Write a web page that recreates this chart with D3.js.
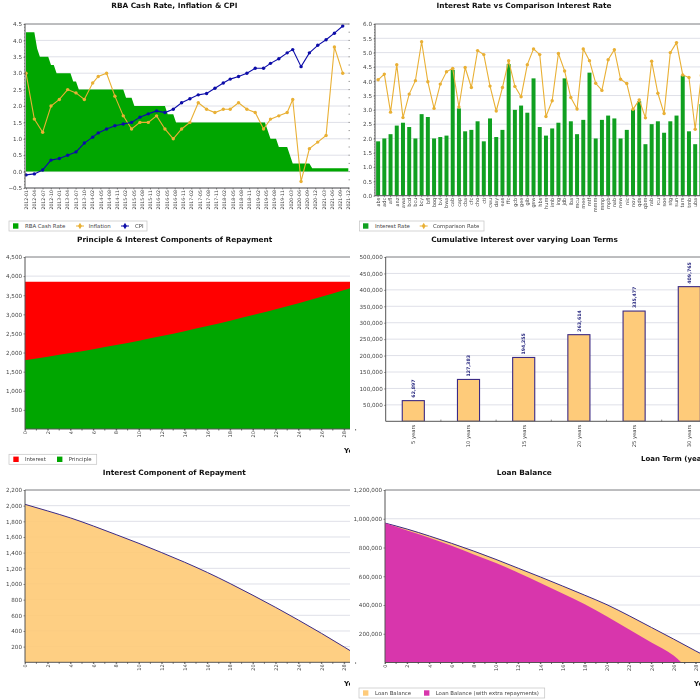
<!DOCTYPE html>
<html lang="en">
<head>
<meta charset="UTF-8">
<title>Home loan charts</title>
<script src="https://d3js.org/d3.v7.min.js"></script>
<style>
    html, body { margin: 0; padding: 0; background: #fff; }
    svg { display: block; filter: blur(0.3px); }
    text { font-family: "DejaVu Sans", sans-serif; }
    .title { font-size: 7.35px; font-weight: bold; fill: #111; text-anchor: middle; }
    .axislabel { font-size: 7px; font-weight: bold; fill: #111; }
    .tick text { fill: #444; }
    .tick line { stroke: #444; stroke-width: 0.6; }
    .domain { stroke: #555; stroke-width: 1; fill: none; }
    .grid { stroke: #dfe0e8; stroke-width: 1; }
    .legend text { font-size: 5.4px; fill: #444; }
</style>
</head>
<body>
<div id="chart"></div>
<script>
// chart 1 - RBA cash rate, inflation, cpi
var rateLabels = ["2012-01","2012-04","2012-07","2012-10","2013-01","2013-04","2013-07","2013-10","2014-02","2014-05","2014-08","2014-11","2015-02","2015-05","2015-08","2015-11","2016-02","2016-05","2016-08","2016-11","2017-02","2017-05","2017-08","2017-11","2018-02","2018-05","2018-08","2018-11","2019-02","2019-05","2019-08","2019-11","2020-03","2020-06","2020-09","2020-12","2021-03","2021-06","2021-09","2021-12"];
var cashMonths = [0,3,4,5,8,9,10,11,16,17,18,19,35,36,38,39,50,51,53,54,86,88,90,91,94,96,102,103,116];
var cashRate = [4.25,4.25,3.75,3.5,3.5,3.25,3.25,3,3,2.75,2.75,2.5,2.5,2.25,2.25,2,2,1.75,1.75,1.5,1.5,1,1,0.75,0.75,0.25,0.25,0.1,0.1];
var pointMonths = [0,3,6,9,12,15,18,21,24,26,29,32,35,38,41,44,47,50,53,56,59,62,65,68,71,73.5,76.5,79.5,82.5,85.5,88,91,94,96,99,102,105,108,111,114];
var inflation = [3.0,1.6,1.2,2.0,2.2,2.5,2.4,2.2,2.7,2.9,3.0,2.3,1.7,1.3,1.5,1.5,1.7,1.3,1.0,1.3,1.5,2.1,1.9,1.8,1.9,1.9,2.1,1.9,1.8,1.3,1.6,1.7,1.8,2.2,-0.3,0.7,0.9,1.1,3.8,3.0];
var cpi = [-0.1,-0.07,0.05,0.35,0.4,0.5,0.6,0.87,1.05,1.18,1.3,1.4,1.45,1.5,1.66,1.76,1.85,1.8,1.9,2.1,2.22,2.34,2.38,2.54,2.7,2.82,2.9,3.0,3.15,3.15,3.3,3.44,3.62,3.72,3.2,3.62,3.85,4.02,4.22,4.44];

// chart 2 - lenders
var lenders = ["abs","adc","afl","anz","awa","bcd","bcu","bcy","bfl","boq","bvl","bwa","cab","cap","cba","cfc","cho","cti","cwu","day","eas","ffc","gcb","gee","gib","gsw","hbs","hum","imb","ing","jdb","lba","mcu","mee","mtf","mmm","mmp","mpb","nab","new","nic","nov","qds","qbm","rab","rcu","soe","stg","sun","tars","tmb","uba",""];
var interestRate = [1.9,2.0,2.15,2.45,2.55,2.4,2.0,2.85,2.75,2.0,2.05,2.1,4.4,3.05,2.25,2.3,2.6,1.9,2.7,2.05,2.3,4.6,3.0,3.15,2.9,4.1,2.4,2.1,2.35,2.55,4.1,2.6,2.15,2.65,4.3,2.0,2.65,2.8,2.7,2.0,2.3,3.0,3.3,1.8,2.5,2.6,2.2,2.6,2.8,4.2,2.25,1.8,3.2];
var comparisonRate = [4.05,4.25,2.92,4.58,2.73,3.55,4.02,5.38,3.98,3.05,3.9,4.33,4.45,3.1,4.48,3.78,5.07,4.93,3.83,2.96,3.78,4.72,3.82,3.46,4.58,5.13,4.93,2.77,3.32,4.97,4.36,3.43,3.03,5.13,4.72,3.93,3.68,4.75,5.1,4.07,3.92,3.02,3.35,2.72,4.7,3.58,2.87,5.0,5.35,4.22,4.13,2.32,4.2];

// charts 3,5,6 - repayment schedule, read every 2 years
var years = [0,2,4,6,8,10,12,14,16,18,20,22,24,26,28,30];
var repayment = [3850,3850,3850,3850,3850,3850,3850,3850,3850,3850,3850,3850,3850,3850,3850,3850];
var principle = [1800,1892,1988,2088,2195,2310,2432,2560,2695,2835,2980,3130,3290,3458,3635,3820];
var interestPart = [2017,1932,1843,1740,1630,1518,1400,1278,1147,1005,855,700,538,370,195,17];
var balance = [970000,928000,880000,829000,775000,717000,656000,595000,532000,468000,402000,325000,244000,163000,80000,0];
var extraYears = [0,2,4,6,8,10,12,14,16,18,20,22,24,26,26.7];
var balanceExtra = [970000,918000,868000,812000,752000,692000,625000,553000,480000,405000,320000,230000,140000,48000,0];

// chart 4 - cumulative interest
var terms = ["5 years","10 years","15 years","20 years","25 years","30 years"];
var cumulative = [62897,127383,194255,263614,335477,409765];

var green = "#00a600", red = "#ff0000", orange = "#e9b035", navy = "#0c0ca8";
var peach = "#fecb7a", edge = "#3b2a85", purple = "#d836ac", barGreen = "#10a020";

var svg = d3.select("#chart").append("svg").attr("width", 700).attr("height", 700);
var fmt = d3.format(",");

// the left column is cut off at x=350
svg.append("clipPath").attr("id", "leftcol").append("rect").attr("width", 350).attr("height", 700);

// makes the plot frame, grid and y axis. returns a group clipped to the panel
function panel(id, o) {
    var g = svg.append("g");
    var y = d3.scaleLinear().domain(o.yDomain).range([o.bottom, o.top]);
    svg.append("clipPath").attr("id", id).append("rect")
        .attr("x", o.left).attr("y", o.top).attr("width", o.clipRight - o.left).attr("height", o.bottom - o.top);

    g.append("text").attr("class", "title").attr("x", o.titleX).attr("y", o.titleY).text(o.title);

    g.selectAll(".grid").data(o.yTicks).join("line").attr("class", "grid")
        .attr("x1", o.left).attr("x2", o.clipRight).attr("y1", function(d){ return y(d) }).attr("y2", function(d){ return y(d) });

    var plot = g.append("g").attr("clip-path", "url(#" + id + ")");

    // grey top edge
    g.append("line").attr("x1", o.left).attr("x2", o.clipRight).attr("y1", o.top).attr("y2", o.top)
        .attr("stroke", "#8a8a8a").attr("stroke-width", 1);

    var axis = g.append("g").attr("transform", "translate(" + o.left + ",0)")
        .call(d3.axisLeft(y).tickValues(o.yTicks).tickFormat(o.yFormat).tickSize(1.5).tickPadding(1.5));
    axis.selectAll("text").style("font-size", "5.6px");
    axis.select(".domain").attr("d", "M0," + o.top + "V" + o.bottom);

    if (o.minor) {
        g.append("g").selectAll("line").data(o.minor).join("line")
            .attr("x1", o.left - 1).attr("x2", o.left)
            .attr("y1", function(d){ return y(d) }).attr("y2", function(d){ return y(d) })
            .attr("stroke", "#444").attr("stroke-width", 0.5);
    }
    return { g: g, plot: plot, y: y };
}

// vertical labels under the x axis
function xAxis(g, scale, o) {
    var axis = d3.axisBottom(scale).tickSize(1.5).tickPadding(0);
    if (o.values) axis.tickValues(o.values);
    if (o.format) axis.tickFormat(o.format);
    var a = g.append("g").attr("transform", "translate(0," + o.bottom + ")").call(axis);
    a.select(".domain").attr("d", "M" + o.left + ",0H" + o.right);
    a.selectAll("text")
        .style("font-size", o.size + "px")
        .attr("text-anchor", "end")
        .attr("transform", "translate(0," + o.gap + ") rotate(-90)")
        .attr("x", 0).attr("y", 0).attr("dy", "0.35em");
    return a;
}

function legend(x, y, w, items) {
    var l = svg.append("g").attr("class", "legend");
    l.append("rect").attr("x", x).attr("y", y).attr("width", w).attr("height", 10)
        .attr("fill", "#fff").attr("stroke", "#c4c4c4").attr("stroke-width", 0.7);
    items.forEach(function(it) {
        if (it.line) {
            l.append("line").attr("x1", it.mark - 4).attr("x2", it.mark + 4).attr("y1", y + 5).attr("y2", y + 5)
                .attr("stroke", it.color).attr("stroke-width", 1);
            l.append("path").attr("d", d3.symbol(d3.symbolDiamond, 12)()).attr("fill", it.color)
                .attr("transform", "translate(" + it.mark + "," + (y + 5) + ")");
        } else {
            l.append("rect").attr("x", it.mark - 2.7).attr("y", y + 2.3).attr("width", 5.4).attr("height", 5.4).attr("fill", it.color);
        }
        l.append("text").attr("x", it.text).attr("y", y + 7).text(it.label);
    });
}

function dots(group, xs, ys, color, r) {
    group.append("g").selectAll("circle").data(ys).join("circle")
        .attr("cx", function(d, i){ return xs(i) }).attr("cy", function(d){ return d })
        .attr("r", r).attr("fill", color);
}

// ---- chart 1 ----
var c1 = panel("c1", {
    left: 25, top: 24, bottom: 188, clipRight: 349, title: "RBA Cash Rate, Inflation & CPI", titleX: 174.3, titleY: 8,
    yDomain: [-0.5, 4.5], yTicks: d3.range(11).map(function(i){ return -0.5 + i * 0.5 }), yFormat: d3.format(".1f"),
    minor: d3.range(51).map(function(i){ return -0.5 + i * 0.1 })
});
var x1 = d3.scaleLinear().domain([0, 116]).range([26, 348.3]);
c1.plot.append("path").attr("fill", green)
    .attr("d", d3.area().x(function(d, i){ return x1(cashMonths[i]) }).y0(c1.y(0)).y1(function(d){ return c1.y(d) })(cashRate));
[[inflation, orange], [cpi, navy]].forEach(function(s) {
    var line = d3.line().x(function(d, i){ return x1(pointMonths[i]) }).y(function(d){ return c1.y(d) });
    c1.plot.append("path").attr("d", line(s[0])).attr("fill", "none").attr("stroke", s[1]).attr("stroke-width", 1.1);
    dots(c1.plot, function(i){ return x1(pointMonths[i]) }, s[0].map(c1.y), s[1], 1.7);
});
var xl1 = d3.scalePoint().domain(rateLabels).range([26, 348.3]);
xAxis(c1.g, xl1, { bottom: 188, left: 25, right: 349, size: 4.7, gap: 2 });
// little ticks on the right hand side
c1.g.append("g").selectAll("line").data(d3.range(21).map(function(i){ return -0.5 + i * 0.25 })).join("line")
    .attr("x1", 348.5).attr("x2", 350).attr("y1", c1.y).attr("y2", c1.y).attr("stroke", "#444").attr("stroke-width", 0.5);
legend(9, 221, 138, [
    { label: "RBA Cash Rate", mark: 15.7, text: 25, color: green },
    { label: "Inflation", mark: 80, text: 88.7, color: orange, line: true },
    { label: "CPI", mark: 125, text: 135, color: navy, line: true }
]);

// ---- chart 2 ----
var c2 = panel("c2", {
    left: 375, top: 24, bottom: 195.7, clipRight: 700, title: "Interest Rate vs Comparison Interest Rate", titleX: 524, titleY: 8,
    yDomain: [0, 6], yTicks: d3.range(13).map(function(i){ return i * 0.5 }), yFormat: d3.format(".1f"),
    minor: d3.range(61).map(function(i){ return i * 0.1 })
});
var x2 = d3.scaleBand().domain(d3.range(53)).range([375, 375 + 53 * 6.217]).paddingInner(0.36).paddingOuter(0.18);
c2.plot.append("g").selectAll("rect").data(interestRate).join("rect")
    .attr("x", function(d, i){ return x2(i) }).attr("width", x2.bandwidth())
    .attr("y", function(d){ return c2.y(d) }).attr("height", function(d){ return c2.y(0) - c2.y(d) })
    .attr("fill", barGreen);
function mid2(i) { return x2(i) + x2.bandwidth() / 2 }
c2.plot.append("path").attr("fill", "none").attr("stroke", orange).attr("stroke-width", 1.1)
    .attr("d", d3.line().x(function(d, i){ return mid2(i) }).y(function(d){ return c2.y(d) })(comparisonRate));
dots(c2.plot, mid2, comparisonRate.map(c2.y), orange, 1.7);
xAxis(c2.g, x2, { bottom: 195.7, left: 375, right: 700, size: 5, gap: 2, format: function(i){ return lenders[i] } });
legend(359.5, 221, 124.5, [
    { label: "Interest Rate", mark: 365.7, text: 375, color: barGreen },
    { label: "Comparison Rate", mark: 423.7, text: 433, color: orange, line: true }
]);

// x axis shared by the yearly charts
function yearAxis(g, scale, bottom, left, right) {
    var a = xAxis(g, scale, { bottom: bottom, left: left, right: right, size: 5, gap: 2, values: d3.range(0, 30, 2), format: d3.format("d") });
    g.append("g").selectAll("line").data(d3.range(0, 30)).join("line")
        .attr("x1", scale).attr("x2", scale).attr("y1", bottom).attr("y2", bottom + 1.5)
        .attr("stroke", "#333").attr("stroke-width", 0.7);
    return a;
}

// ---- chart 3 ----
var c3 = panel("c3", {
    left: 25, top: 257, bottom: 429, clipRight: 350, title: "Principle & Interest Components of Repayment", titleX: 174.7, titleY: 241.5,
    yDomain: [0, 4500], yTicks: d3.range(500, 5000, 500), yFormat: fmt
});
var x3 = d3.scaleLinear().domain([0, 30]).range([25, 25 + 30 * 11.4]);
function areaOn(c, x, xs) {
    return d3.area().curve(d3.curveMonotoneX).x(function(d, i){ return x(xs[i]) }).y0(c.y(0)).y1(function(d){ return c.y(d) });
}
function lineOn(c, x, xs) {
    return d3.line().curve(d3.curveMonotoneX).x(function(d, i){ return x(xs[i]) }).y(function(d){ return c.y(d) });
}
c3.plot.append("path").attr("fill", red).attr("d", areaOn(c3, x3, years)(repayment));
c3.plot.append("path").attr("fill", green).attr("d", areaOn(c3, x3, years)(principle));
yearAxis(c3.g, x3, 429, 25, 350);
c3.g.append("text").attr("class", "axislabel").attr("clip-path", "url(#leftcol)").attr("x", 344).attr("y", 453).text("Years");
legend(9, 454.3, 87.7, [
    { label: "Interest", mark: 16, text: 25, color: red },
    { label: "Principle", mark: 59.7, text: 68.7, color: green }
]);

// ---- chart 4 ----
var c4 = panel("c4", {
    left: 385.7, top: 257, bottom: 421.3, clipRight: 700, title: "Cumulative Interest over varying Loan Terms", titleX: 524.5, titleY: 241.5,
    yDomain: [0, 500000], yTicks: d3.range(50000, 550000, 50000), yFormat: fmt
});
var x4 = d3.scaleBand().domain(terms).range([385.7, 385.7 + 6 * 55.2]).paddingInner(0.6).paddingOuter(0.3);
c4.plot.append("g").selectAll("rect").data(cumulative).join("rect")
    .attr("x", function(d, i){ return x4(terms[i]) }).attr("width", x4.bandwidth())
    .attr("y", function(d){ return c4.y(d) }).attr("height", function(d){ return c4.y(0) - c4.y(d) })
    .attr("fill", peach).attr("stroke", edge).attr("stroke-width", 1.1);
c4.g.append("g").selectAll("text").data(cumulative).join("text")
    .attr("transform", function(d, i){ return "translate(" + (x4(terms[i]) + x4.bandwidth() / 2) + "," + (c4.y(d) - 3) + ") rotate(-90)" })
    .attr("dy", "0.35em").style("font-size", "4.7px").style("font-weight", "bold").attr("fill", "#2a2a80")
    .text(function(d){ return fmt(d) });
var a4 = xAxis(c4.g, x4, { bottom: 421.3, left: 385.7, right: 700, size: 5.2, gap: 3.4 });
a4.selectAll(".tick line").remove();
c4.g.append("g").selectAll("line").data(terms.slice(1)).join("line")
    .attr("x1", function(d){ return x4(d) - x4.step() * 0.3 }).attr("x2", function(d){ return x4(d) - x4.step() * 0.3 })
    .attr("y1", 421.3).attr("y2", 419.6).attr("stroke", "#444").attr("stroke-width", 0.6);
c4.g.append("text").attr("class", "axislabel").attr("x", 641).attr("y", 461).text("Loan Term (years)");

// ---- chart 5 ----
var c5 = panel("c5", {
    left: 25, top: 490, bottom: 662.3, clipRight: 350, title: "Interest Component of Repayment", titleX: 174.3, titleY: 474.5,
    yDomain: [0, 2200], yTicks: d3.range(200, 2400, 200), yFormat: fmt
});
c5.plot.append("path").attr("fill", peach).attr("fill-opacity", 0.93).attr("d", areaOn(c5, x3, years)(interestPart));
c5.plot.append("path").attr("fill", "none").attr("stroke", edge).attr("stroke-width", 1).attr("d", lineOn(c5, x3, years)(interestPart));
yearAxis(c5.g, x3, 662.3, 25, 350);
c5.g.append("text").attr("class", "axislabel").attr("clip-path", "url(#leftcol)").attr("x", 344).attr("y", 686.3).text("Years");

// ---- chart 6 ----
var c6 = panel("c6", {
    left: 385, top: 490, bottom: 662.5, clipRight: 700, title: "Loan Balance", titleX: 524.3, titleY: 474.5,
    yDomain: [0, 1200000], yTicks: d3.range(200000, 1400000, 200000), yFormat: fmt
});
var x6 = d3.scaleLinear().domain([0, 30]).range([385, 385 + 30 * 11.1]);
c6.plot.append("path").attr("fill", peach).attr("d", areaOn(c6, x6, years)(balance));
c6.plot.append("path").attr("fill", "none").attr("stroke", edge).attr("stroke-width", 1).attr("d", lineOn(c6, x6, years)(balance));
c6.plot.append("path").attr("fill", purple).attr("d", areaOn(c6, x6, extraYears)(balanceExtra));
yearAxis(c6.g, x6, 662.5, 385, 700);
c6.g.append("text").attr("class", "axislabel").attr("x", 694).attr("y", 686.3).text("Years");
legend(359, 688, 185.7, [
    { label: "Loan Balance", mark: 365.7, text: 375, color: peach },
    { label: "Loan Balance (with extra repayments)", mark: 426.7, text: 435.7, color: purple }
]);
</script>
</body>
</html>
